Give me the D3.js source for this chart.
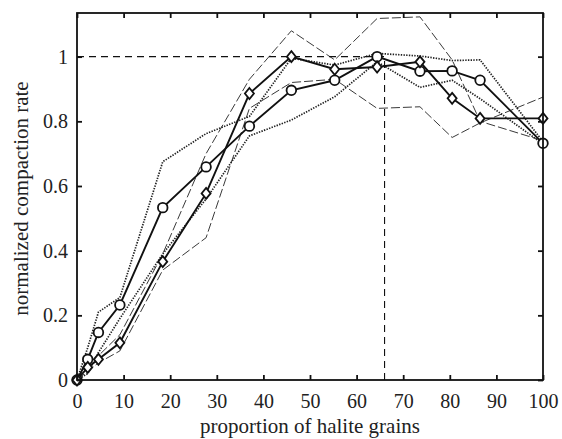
<!DOCTYPE html>
<html lang="en">
<head>
  <meta charset="UTF-8">
  <title>Normalized compaction rate</title>
  <script src="https://d3js.org/d3.v7.min.js"></script>
  <style>
    body { margin: 0; background: #fff; }
    text { font-family: "Liberation Serif", "DejaVu Serif", serif; fill: #222; }
  </style>
</head>
<body>
  <div id="chart"></div>

  <script>
    // proportion of halite grains (%)
    const halite = [0, 2.3, 4.6, 9.2, 18.4, 27.7, 37, 46, 55.3, 64.4, 73.6, 80.5, 86.5, 100];

    // circle series and its spread (dotted)
    const circleMean  = [0, 0.064, 0.147, 0.232, 0.533, 0.659, 0.785, 0.896, 0.927, 1.0, 0.955, 0.956, 0.927, 0.732];
    const circleUpper = [0, 0.10, 0.21, 0.255, 0.675, 0.762, 0.815, 0.995, 0.974, 1.01, 1.002, 0.988, 0.99, 0.737];
    const circleLower = [0, 0.02, 0.085, 0.19, 0.39, 0.56, 0.755, 0.804, 0.876, 0.984, 0.905, 0.927, 0.87, 0.73];

    // diamond series and its spread (dashed)
    const diamondMean  = [0, 0.039, 0.064, 0.115, 0.366, 0.577, 0.886, 1.0, 0.961, 0.968, 0.984, 0.871, 0.809, 0.809];
    const diamondUpper = [0, 0.05, 0.075, 0.14, 0.39, 0.70, 0.93, 1.08, 0.99, 1.118, 1.123, 0.99, 0.80, 0.74];
    const diamondLower = [0, 0.028, 0.053, 0.09, 0.34, 0.44, 0.84, 0.92, 0.93, 0.84, 0.845, 0.75, 0.795, 0.875];

    const xTicks = [0, 10, 20, 30, 40, 50, 60, 70, 80, 90, 100];
    const yTicks = [0, 0.2, 0.4, 0.6, 0.8, 1];
    const peakX = 66;   // vertical reference line

    const width = 562, height = 439;
    const margin = { top: 13, right: 19, bottom: 59, left: 77 };
    const innerW = width - margin.left - margin.right;
    const innerH = height - margin.top - margin.bottom;

    const svg = d3.select('#chart').append('svg')
      .attr('width', width)
      .attr('height', height);

    const g = svg.append('g')
      .attr('transform', `translate(${margin.left},${margin.top})`);

    const x = d3.scaleLinear().domain([0, 100]).range([0, innerW]);
    const y = d3.scaleLinear().domain([0, 1.135]).range([innerH, 0]);

    const pts = ys => halite.map((h, i) => [h, ys[i]]);
    const line = d3.line().x(d => x(d[0])).y(d => y(d[1]));

    // spread lines
    [diamondUpper, diamondLower].forEach(s => {
      g.append('path').datum(pts(s))
        .attr('d', line).attr('fill', 'none')
        .attr('stroke', '#222').attr('stroke-width', 0.9)
        .attr('stroke-dasharray', '9,3');
    });
    [circleUpper, circleLower].forEach(s => {
      g.append('path').datum(pts(s))
        .attr('d', line).attr('fill', 'none')
        .attr('stroke', '#222').attr('stroke-width', 1.7)
        .attr('stroke-dasharray', '1.4,1.3');
    });

    // reference lines at 1 and at the peak
    g.append('line')
      .attr('x1', x(0)).attr('x2', x(peakX))
      .attr('y1', y(1)).attr('y2', y(1))
      .attr('stroke', '#111').attr('stroke-width', 1.1)
      .attr('stroke-dasharray', '7,5');
    g.append('line')
      .attr('x1', x(peakX)).attr('x2', x(peakX))
      .attr('y1', y(0)).attr('y2', y(1))
      .attr('stroke', '#111').attr('stroke-width', 1.1)
      .attr('stroke-dasharray', '7,5');

    // main series
    g.append('path').datum(pts(circleMean))
      .attr('d', line).attr('fill', 'none')
      .attr('stroke', '#111').attr('stroke-width', 1.9);
    g.append('path').datum(pts(diamondMean))
      .attr('d', line).attr('fill', 'none')
      .attr('stroke', '#111').attr('stroke-width', 1.9);

    g.selectAll('.circ').data(pts(circleMean)).join('circle')
      .attr('class', 'circ')
      .attr('cx', d => x(d[0])).attr('cy', d => y(d[1]))
      .attr('r', 4.8)
      .attr('fill', '#fff').attr('stroke', '#111').attr('stroke-width', 1.8);

    g.selectAll('.diam').data(pts(diamondMean)).join('path')
      .attr('class', 'diam')
      .attr('transform', d => `translate(${x(d[0])},${y(d[1])})`)
      .attr('d', 'M0,-5.5L4.5,0L0,5.5L-4.5,0Z')
      .attr('fill', '#fff').attr('stroke', '#111').attr('stroke-width', 1.8);

    // box with inward ticks
    g.append('rect')
      .attr('width', innerW).attr('height', innerH)
      .attr('fill', 'none').attr('stroke', '#111').attr('stroke-width', 1.8);

    const xAxis = g.append('g')
      .attr('transform', `translate(0,${innerH})`)
      .call(d3.axisBottom(x).tickValues(xTicks).tickSizeInner(-5).tickSizeOuter(0).tickPadding(14));
    const xTop = g.append('g')
      .call(d3.axisTop(x).tickValues(xTicks).tickSizeInner(-5).tickSizeOuter(0).tickFormat(''));
    const yAxis = g.append('g')
      .call(d3.axisLeft(y).tickValues(yTicks).tickSizeInner(-5).tickSizeOuter(0).tickPadding(9)
        .tickFormat(d => d === 0 || d === 1 ? d3.format('d')(d) : d3.format('.1f')(d)));
    const yRight = g.append('g')
      .attr('transform', `translate(${innerW},0)`)
      .call(d3.axisRight(y).tickValues(yTicks).tickSizeInner(-5).tickSizeOuter(0).tickFormat(''));

    [xAxis, xTop, yAxis, yRight].forEach(a => {
      a.select('.domain').remove();
      a.selectAll('.tick line').attr('stroke', '#111').attr('stroke-width', 1.8);
      a.selectAll('.tick text').attr('font-size', 20).attr('fill', '#222')
        .attr('font-family', '"Liberation Serif", serif');
    });

    // axis titles
    svg.append('text')
      .attr('x', margin.left + innerW / 2)
      .attr('y', 433)
      .attr('text-anchor', 'middle')
      .attr('font-size', 21)
      .text('proportion of halite grains');

    svg.append('text')
      .attr('transform', `translate(28,${margin.top + innerH / 2 + 2}) rotate(-90)`)
      .attr('text-anchor', 'middle')
      .attr('font-size', 21)
      .text('normalized compaction rate');
  </script>
</body>
</html>
